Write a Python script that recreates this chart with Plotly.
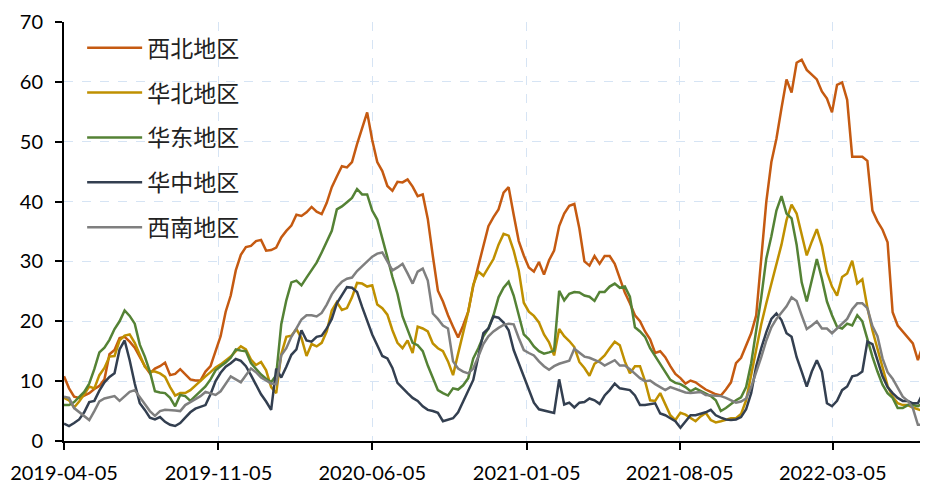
import pandas as pd
import plotly.graph_objects as go

# weekly readings, first week 2019-04-05
START = "2019-04-05"

xibei = [
    10.8, 8.8, 7.4, 7.2, 7.6, 8.0, 8.7, 9.2, 10.3, 14.5,
    15.2, 17.2, 17.4, 16.6, 15.6, 14.1, 12.5, 11.3, 12.1, 12.5,
    13.1, 11.0, 11.2, 12.0, 11.2, 10.3, 10.1, 10.1, 11.6, 12.5,
    15.0, 17.5, 21.6, 24.3, 28.5, 31.1, 32.4, 32.6, 33.4, 33.6,
    31.8, 31.9, 32.3, 34.0, 35.1, 36.0, 37.8, 37.6, 38.2, 39.1,
    38.3, 37.9, 39.8, 42.4, 44.2, 45.9, 45.7, 46.6, 49.6, 52.1,
    54.9, 50.3, 46.6, 45.1, 42.6, 41.8, 43.3, 43.2, 43.7, 42.5,
    40.9, 41.2, 37.1, 30.9, 25.1, 23.3, 21.0, 19.1, 17.3, 19.3,
    21.6, 25.9, 29.3, 32.8, 35.9, 37.4, 38.7, 41.5, 42.4, 37.8,
    33.4, 31.0, 29.0, 28.3, 29.9, 27.8, 30.2, 31.8, 35.9, 38.0,
    39.3, 39.6, 35.5, 30.0, 29.3, 30.9, 29.6, 30.9, 30.9, 29.6,
    27.0, 24.8, 23.0, 21.0, 20.0, 18.3, 17.0, 14.7, 15.0, 14.0,
    12.5, 11.2, 10.5, 9.6, 10.1, 9.8, 9.2, 8.6, 8.2, 7.8,
    7.6, 8.6, 9.8, 13.0, 13.9, 15.8, 18.0, 21.0, 30.0, 40.0,
    46.6, 50.5, 55.6, 60.4, 58.2, 63.2, 63.7, 62.0, 61.2, 60.4,
    58.4, 57.2, 54.9, 59.5, 59.9, 57.0, 47.5, 47.5, 47.5, 46.8,
    38.5, 36.7, 35.3, 33.2, 21.5, 19.3, 18.3, 17.4, 16.3, 13.5,
    16.0, 18.5,
]

huabei = [
    7.2, 6.8, 5.6, 6.6, 7.8, 9.1, 8.8, 11.0, 12.2, 14.1,
    14.2, 16.8, 17.6, 17.8, 16.4, 14.3, 12.4, 11.6, 11.6, 11.3,
    10.7, 9.0, 7.6, 8.0, 8.0, 8.5, 9.3, 10.1, 10.8, 11.5,
    12.3, 12.8, 13.4, 14.1, 15.0, 15.8, 15.3, 13.6, 12.7, 13.2,
    11.8, 9.0, 8.0, 14.5, 17.4, 17.6, 18.7, 17.2, 14.2, 16.2,
    15.8, 16.4, 18.3, 21.8, 23.2, 21.9, 22.2, 24.0, 26.4, 26.3,
    25.8, 26.0, 22.8, 22.2, 21.1, 18.5, 16.4, 15.5, 16.8, 14.7,
    19.1, 18.8, 18.3, 16.3, 15.5, 15.0, 13.3, 11.0, 14.6, 18.3,
    21.6, 26.1, 28.3, 27.6, 28.9, 30.4, 32.8, 34.6, 34.3, 31.8,
    28.5, 23.1, 21.6, 20.9, 19.8, 17.8, 16.5, 14.3, 18.7, 17.5,
    16.7, 15.7, 13.2, 12.2, 10.9, 12.9, 13.5, 14.3, 15.5, 16.6,
    16.0, 13.3, 11.3, 12.5, 12.5, 10.0, 6.8, 6.7, 8.0, 6.0,
    4.3, 3.5, 4.7, 4.4, 3.8, 3.3, 4.1, 4.7, 3.5, 3.1,
    3.3, 3.6, 3.8, 3.8, 4.5, 6.8, 11.0, 15.5, 19.5, 23.0,
    26.3, 29.8, 32.8, 36.9, 39.5, 38.0, 34.6, 31.0, 33.3, 35.4,
    32.6, 28.2, 25.8, 24.3, 27.4, 28.0, 30.1, 26.3, 27.0, 22.3,
    18.5, 15.3, 12.0, 9.2, 7.4, 6.3, 6.0, 6.0, 5.6, 5.3,
    5.0, 7.5,
]

huadong = [
    6.0, 6.0, 6.5, 7.3, 8.2, 9.6, 12.0, 14.8, 15.6, 16.9,
    18.7, 20.0, 21.8, 20.9, 19.6, 16.1, 14.1, 11.6, 8.3, 8.1,
    8.0, 7.2, 5.8, 7.7, 7.5, 6.7, 7.5, 8.3, 9.1, 10.3,
    11.8, 12.5, 13.1, 13.9, 15.3, 15.1, 15.0, 13.0, 12.0, 11.1,
    10.4, 9.8, 11.0, 19.5, 23.5, 26.5, 26.8, 26.0, 27.3, 28.5,
    29.8, 31.5, 33.4, 35.1, 38.7, 39.2, 39.9, 40.6, 42.1, 41.2,
    41.2, 38.5, 37.0, 33.6, 30.7, 27.4, 24.6, 20.8, 18.6, 16.4,
    16.0, 15.0, 12.6, 10.5, 8.5, 8.0, 7.6, 8.8, 8.6, 9.3,
    10.5, 13.8, 15.5, 17.5, 18.8, 21.0, 24.0, 25.6, 26.6, 24.3,
    20.8, 17.8, 17.0, 15.8, 15.0, 14.6, 14.8, 15.1, 25.1, 23.5,
    24.6, 24.9, 24.8, 24.3, 24.1, 23.4, 24.9, 24.9, 25.8, 26.3,
    25.6, 25.8, 24.1, 19.0, 18.3, 17.4, 15.5, 14.2, 13.0, 11.6,
    10.2, 9.7, 9.5, 9.0, 8.3, 8.8, 8.4, 8.0, 7.5, 6.8,
    5.0, 5.5, 6.2, 6.8, 7.3, 9.0, 13.0, 18.5, 24.0, 30.5,
    34.2, 38.5, 40.9, 38.0, 37.2, 32.8, 26.5, 23.3, 27.1, 30.4,
    27.1, 23.3, 21.0, 19.1, 18.8, 19.6, 19.3, 21.0, 20.0, 17.0,
    14.1, 11.6, 9.4, 8.0, 7.2, 5.5, 5.5, 6.0, 6.0, 5.8,
    6.3, 5.3,
]

huazhong = [
    2.9, 2.5, 3.0, 3.6, 4.8, 6.5, 6.7, 8.4, 9.8, 10.7,
    11.3, 15.3, 16.8, 13.5, 9.6, 6.3, 5.2, 3.9, 3.6, 4.0,
    3.2, 2.7, 2.5, 3.0, 3.9, 4.8, 5.4, 5.7, 6.0, 7.8,
    10.0, 11.4, 12.4, 13.0, 13.7, 13.4, 12.5, 11.0, 9.5, 7.8,
    6.6, 5.2, 12.1, 10.6, 12.4, 14.4, 15.3, 18.5, 16.8, 16.6,
    17.4, 17.6, 18.8, 20.4, 23.0, 24.3, 25.7, 25.6, 24.9, 22.4,
    20.0, 17.8, 16.0, 14.2, 13.8, 12.2, 9.7, 8.8, 8.0, 7.2,
    6.7, 5.8, 5.2, 5.0, 4.7, 3.3, 3.5, 3.8, 4.8, 6.7,
    8.4, 10.2, 14.1, 18.0, 18.8, 20.8, 20.6, 19.8, 18.5, 15.2,
    13.0, 10.8, 8.8, 6.4, 5.3, 5.1, 5.0, 4.7, 10.3, 6.1,
    6.4, 5.6, 6.4, 6.5, 7.1, 6.8, 6.2, 7.6, 8.5, 9.6,
    8.8, 8.6, 8.5, 7.6, 6.0, 6.0, 6.2, 6.3, 4.6, 4.3,
    3.8, 3.3, 2.2, 3.3, 4.3, 4.3, 4.5, 4.8, 5.2, 4.3,
    3.9, 3.6, 3.5, 3.6, 4.0, 5.3, 8.0, 12.5, 15.5, 18.2,
    20.4, 21.3, 20.2, 18.0, 17.4, 14.0, 11.6, 9.1, 11.6, 13.5,
    11.6, 6.3, 5.8, 6.7, 8.5, 9.1, 10.8, 11.0, 11.6, 16.6,
    16.2, 13.5, 10.8, 9.0, 8.0, 7.2, 6.7, 6.7, 6.3, 6.3,
    8.0, 8.3,
]

xinan = [
    7.4, 7.2, 5.5, 4.8, 4.1, 3.5, 5.0, 6.6, 7.1, 7.3,
    7.5, 6.7, 7.4, 8.2, 8.5, 7.3, 6.0, 5.0, 4.2, 5.0,
    5.2, 5.2, 5.1, 5.0, 6.0, 6.5, 7.0, 7.5, 8.2, 8.0,
    7.7, 8.3, 9.5, 10.8, 10.3, 9.8, 11.0, 12.1, 11.5, 10.6,
    10.1, 9.6, 9.5, 14.3, 15.5, 17.4, 18.8, 20.3, 21.0, 21.0,
    20.8, 21.4, 22.8, 24.5, 25.7, 26.6, 27.1, 27.3, 28.4, 29.2,
    29.9, 30.8, 31.3, 31.5, 30.0, 28.5, 29.0, 29.6, 28.0, 26.3,
    28.3, 28.8, 26.8, 21.3, 20.4, 19.3, 18.8, 13.3, 12.1, 11.6,
    11.3, 12.1, 14.1, 16.2, 17.5, 18.3, 18.9, 19.4, 19.6, 19.5,
    17.2, 15.2, 14.7, 14.3, 13.3, 12.5, 11.9, 12.5, 12.9, 13.1,
    13.4, 15.4, 14.7, 14.1, 13.9, 13.6, 13.2, 12.6, 13.0, 13.5,
    12.6, 12.6, 12.0, 11.3, 10.5, 10.0, 10.1, 9.5, 9.0, 8.5,
    9.0, 8.7, 8.3, 8.1, 8.0, 8.1, 8.2, 7.7, 7.6, 7.6,
    7.5, 7.2, 6.8, 6.4, 6.6, 7.1, 9.0, 11.4, 14.0, 16.8,
    19.0, 20.4, 21.5, 22.5, 24.0, 23.4, 21.0, 18.7, 19.3, 20.0,
    18.8, 18.8, 18.0, 18.8, 19.6, 20.4, 22.0, 23.0, 23.0, 22.2,
    19.2, 17.5, 13.8, 11.5, 10.4, 8.8, 7.4, 6.7, 5.5, 2.7,
    2.7, 2.2,
]

names = ["西北地区", "华北地区", "华东地区", "华中地区", "西南地区"]
series = [xibei, huabei, huadong, huazhong, xinan]
colors = ["#C55A11", "#BF9000", "#548235", "#333F50", "#7F7F7F"]

tick_dates = ["2019-04-05", "2019-11-05", "2020-06-05",
              "2021-01-05", "2021-08-05", "2022-03-05"]

dates = pd.date_range(START, periods=len(xibei), freq="7D")

fig = go.Figure()
for name, vals, col in zip(names, series, colors):
    fig.add_trace(go.Scatter(x=dates, y=vals, name=name, mode="lines",
                             legendgroup=name,
                             line=dict(color=col, width=2.5)))

grid = "#D6E4F4"
# the page body has an 8px margin, so the figure is sized/offset for that
fig.update_layout(
    width=920, height=476,
    margin=dict(l=56, r=0, t=14, b=41),
    paper_bgcolor="white", plot_bgcolor="white",
    font=dict(family="Lato, Open Sans, sans-serif", size=20, color="black"),
    legend=dict(x=0.021, y=0.99, xanchor="left", yanchor="top",
                bgcolor="rgba(0,0,0,0)", tracegroupgap=12, itemwidth=55,
                font=dict(family="Noto Sans CJK SC", size=23, color="#222222")),
)
fig.update_xaxes(
    type="date", range=[dates[0], dates[-1]],
    tickvals=tick_dates, ticktext=tick_dates,
    showline=True, linecolor="black", linewidth=2,
    ticks="outside", ticklen=7, tickwidth=2, tickcolor="black",
    ticklabelstandoff=6,
    showgrid=True, gridcolor=grid, griddash="dash", gridwidth=1,
    zeroline=False,
)
fig.update_yaxes(
    range=[0, 70], tickvals=list(range(0, 71, 10)),
    showline=True, linecolor="black", linewidth=2,
    ticks="outside", ticklen=7, tickwidth=2, tickcolor="black",
    ticklabelstandoff=8,
    showgrid=True, gridcolor=grid, griddash="dash", gridwidth=1,
    zeroline=False,
)

fig.write_html("out.html")
